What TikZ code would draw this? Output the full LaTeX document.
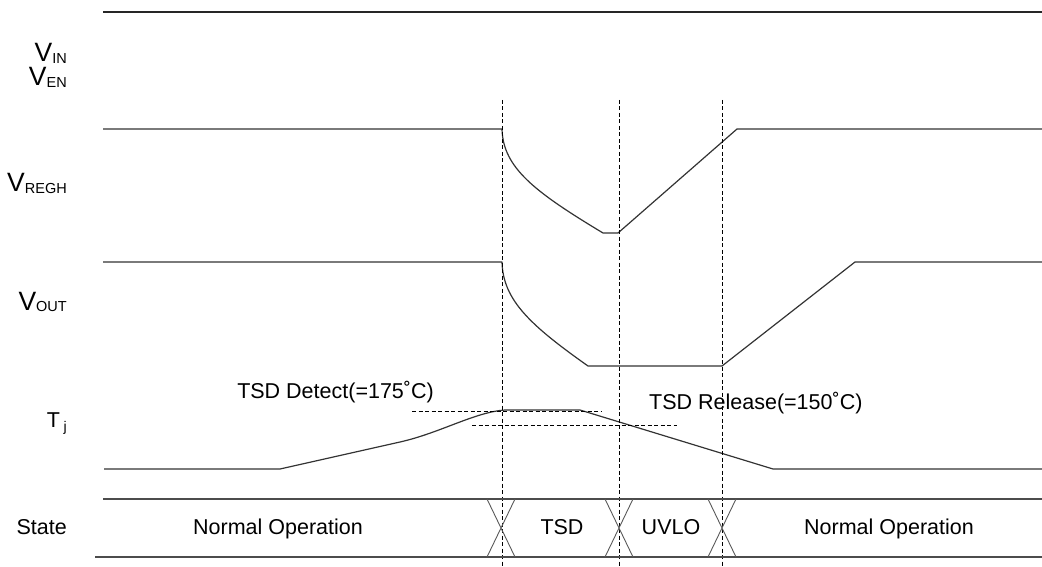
\documentclass[tikz,border=0pt]{standalone}
\usepackage{fontspec}
\setmainfont{Liberation Sans}
\usepackage{tikz}
\usetikzlibrary{positioning, calc}

\newcommand{\vsig}[2]{{\fontsize{26.5}{28}\selectfont #1}\raisebox{-1.2pt}{\fontsize{14.5}{16}\selectfont #2}}

\begin{document}
\begin{tikzpicture}[
    x=1pt, y=-1pt,
    wave/.style={draw=black!80, line width=1.2pt, line join=round},
    rail/.style={draw=black!85, line width=1.1pt},
    thr/.style={draw=black, line width=0.85pt, dash pattern=on 4pt off 2.5pt},
    cross/.style={draw=black!65, line width=0.9pt},
    lbl/.style={font=\fontsize{21.5}{24}\selectfont, inner sep=0pt}
]
\useasboundingbox (0,0) rectangle (1042,567);

% signal names
\node[inner sep=0pt, anchor=base east, align=right,
      font=\fontsize{26.5}{24}\selectfont] (vin) at (67,86)
  {\vsig{V}{IN}\\\vsig{V}{EN}};
\node[inner sep=0pt, anchor=base east] (vregh) at (67,192) {\vsig{V}{REGH}};
\node[inner sep=0pt, anchor=base east] (vout)  at (67,310) {\vsig{V}{OUT}};
\node[lbl, anchor=base east] (tj)    at (67,427) {T\,\raisebox{-4pt}{\fontsize{14}{16}\selectfont j}};
\node[lbl, anchor=base east] (state) at (67,534) {State};

% waveforms
\draw[rail] (103,12) -- (1042,12);
\draw[wave] (103,129) -- (502,129) .. controls (503,168) and (535,192) .. (603,233)
  -- (618,233) -- (737,129) -- (1042,129);
\draw[wave] (103,262) -- (502,262) .. controls (503,300) and (530,325) .. (588,366)
  -- (722,366) -- (855,262) -- (1042,262);
\draw[wave] (104,469) -- (280,469) -- (400,442) .. controls (440,433) and (475,412) .. (505,410)
  -- (580,410) -- (773,469) -- (1042,469);

% thresholds
\draw[thr] (412,411) -- (602,411);
\draw[thr] (472,425) -- (677,425);
\node[lbl, anchor=base east] (detect)  at (434,398) {TSD Detect(=175˚C)};
\node[lbl, anchor=base west] (release) at (649,409) {TSD Release(=150˚C)};

% event markers
\foreach \x in {502,619,722}
  \draw[thr] (\x,100) -- (\x,567);

% state bus
\draw[rail, draw=black!70] (103,499) -- (1042,499);
\draw[rail, draw=black!70] (95,557) -- (1042,557);
\foreach \x in {501,619,722}
  \draw[cross] (\x-14,499) -- (\x+14,557) (\x+14,499) -- (\x-14,557);

\node[lbl, anchor=base] (norm1) at (278,534) {Normal Operation};
\node[lbl, anchor=base] (tsd)   at (562,534) {TSD};
\node[lbl, anchor=base] (uvlo)  at (671,534) {UVLO};
\node[lbl, anchor=base] (norm2) at (889,534) {Normal Operation};
\end{tikzpicture}
\end{document}
